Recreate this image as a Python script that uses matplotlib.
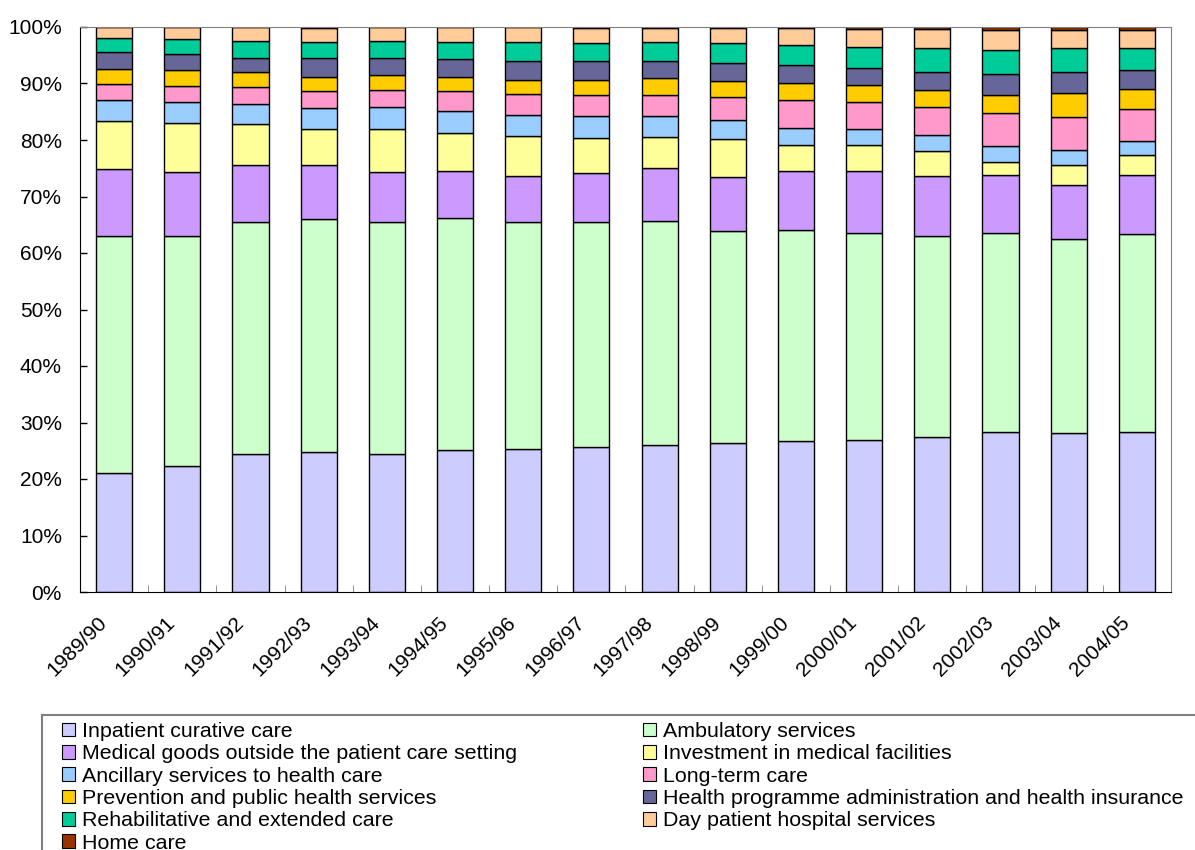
import numpy as np
import matplotlib.pyplot as plt
import matplotlib.transforms as mtransforms
from matplotlib.patches import Rectangle, Patch
from matplotlib.ticker import FixedLocator, PercentFormatter

plt.rcParams['font.family'] = ['Liberation Sans', 'DejaVu Sans']

years = ['1989/90', '1990/91', '1991/92', '1992/93', '1993/94', '1994/95',
         '1995/96', '1996/97', '1997/98', '1998/99', '1999/00', '2000/01',
         '2001/02', '2002/03', '2003/04', '2004/05']

# shares in %, bottom to top
inpatient   = [21.1, 22.3, 24.5, 24.8, 24.5, 25.2, 25.3, 25.6, 26.0, 26.3, 26.8, 26.9, 27.5, 28.4, 28.2, 28.4]
ambulatory  = [41.9, 40.7, 41.0, 41.3, 41.0, 41.0, 40.1, 39.8, 39.6, 37.6, 37.3, 36.6, 35.5, 35.1, 34.2, 34.9]
medical     = [11.9, 11.3, 10.0, 9.4, 8.8, 8.4, 8.2, 8.7, 9.4, 9.6, 10.4, 11.0, 10.7, 10.3, 9.6, 10.5]
investment  = [8.4, 8.7, 7.3, 6.4, 7.6, 6.6, 7.1, 6.3, 5.6, 6.7, 4.7, 4.6, 4.3, 2.3, 3.6, 3.5]
ancillary   = [3.7, 3.7, 3.6, 3.7, 3.9, 3.9, 3.8, 3.8, 3.6, 3.3, 3.0, 2.8, 2.8, 2.8, 2.6, 2.6]
longterm    = [2.9, 2.9, 2.9, 3.0, 3.1, 3.5, 3.6, 3.7, 3.8, 4.1, 4.8, 4.9, 5.0, 5.8, 5.8, 5.5]
prevention  = [2.7, 2.8, 2.8, 2.6, 2.6, 2.5, 2.6, 2.7, 2.9, 2.9, 3.0, 2.9, 3.1, 3.3, 4.4, 3.6]
admin       = [3.0, 2.9, 2.5, 3.3, 3.0, 3.2, 3.3, 3.3, 3.0, 3.1, 3.2, 3.0, 3.2, 3.7, 3.7, 3.4]
rehab       = [2.4, 2.5, 2.9, 2.8, 3.0, 3.0, 3.3, 3.2, 3.4, 3.5, 3.7, 3.7, 4.1, 4.2, 4.2, 3.9]
daypatient  = [2.0, 2.2, 2.5, 2.6, 2.5, 2.7, 2.7, 2.8, 2.6, 2.7, 2.9, 3.2, 3.4, 3.6, 3.2, 3.1]
homecare    = [0.0, 0.0, 0.0, 0.1, 0.0, 0.0, 0.0, 0.1, 0.1, 0.2, 0.2, 0.4, 0.4, 0.5, 0.5, 0.6]

series = [
    ('Inpatient curative care', inpatient, '#CCCCFF'),
    ('Ambulatory services', ambulatory, '#CCFFCC'),
    ('Medical goods outside the patient care setting', medical, '#CC99FF'),
    ('Investment in medical facilities', investment, '#FFFF99'),
    ('Ancillary services to health care', ancillary, '#99CCFF'),
    ('Long-term care', longterm, '#FF99CC'),
    ('Prevention and public health services', prevention, '#FFCC00'),
    ('Health programme administration and health insurance', admin, '#666699'),
    ('Rehabilitative and extended care', rehab, '#00CC99'),
    ('Day patient hospital services', daypatient, '#FFCC99'),
    ('Home care', homecare, '#993300'),
]

fig = plt.figure(figsize=(11.95, 8.5), dpi=100)
ax = fig.add_axes([80/1195, 1-592/850, (1171-80)/1195, (592-27)/850])

x = np.arange(len(years))
bottom = np.zeros(len(years))
for name, vals, col in series:
    vals = np.array(vals)
    ax.bar(x, vals, 0.53, bottom=bottom, color=col, edgecolor='black', linewidth=1)
    bottom += vals

ax.set_xlim(-0.5, len(years) - 0.5)
ax.set_ylim(0, 100)
ax.yaxis.set_major_locator(FixedLocator(np.arange(0, 101, 10)))
ax.yaxis.set_major_formatter(PercentFormatter(decimals=0))
ax.tick_params(axis='y', direction='in', length=5, width=1, labelsize=15, pad=13)

ax.set_xticks(x)
ax.set_xticklabels(years, rotation=45, ha='right', va='center', rotation_mode='anchor', fontsize=15)
ax.tick_params(axis='x', which='major', length=0, pad=20)
shift = mtransforms.ScaledTranslation(-10/100, 0, fig.dpi_scale_trans)
for lab in ax.get_xticklabels():
    lab.set_transform(lab.get_transform() + shift)
ax.xaxis.set_minor_locator(FixedLocator(np.arange(0.5, len(years) - 1, 1)))
ax.tick_params(axis='x', which='minor', direction='in', length=5, color='#808080')

for s in ['top', 'right']:
    ax.spines[s].set_color('#808080')
for s in ['left', 'bottom']:
    ax.spines[s].set_color('black')

# legend box runs off the figure edge
fig.patches.append(Rectangle((42/1195, -0.05), 1.1, 1-715/850 + 0.05, transform=fig.transFigure,
                             fill=False, edgecolor='#808080', linewidth=1.5))
handles = [Patch(facecolor=c, edgecolor='black', linewidth=0.8, label=n) for n, v, c in series]
# legend fills column by column: reorder so it reads row by row
handles = handles[0::2] + handles[1::2]
fig.legend(handles=handles, ncol=2, loc='upper left', bbox_to_anchor=(62/1195, 1-722/850),
           frameon=False, fontsize=15.4, handlelength=0.6, handleheight=0.6,
           handletextpad=0.33, labelspacing=0.155, columnspacing=5.9, borderpad=0, borderaxespad=0)

fig.savefig('out.png', dpi=100)
